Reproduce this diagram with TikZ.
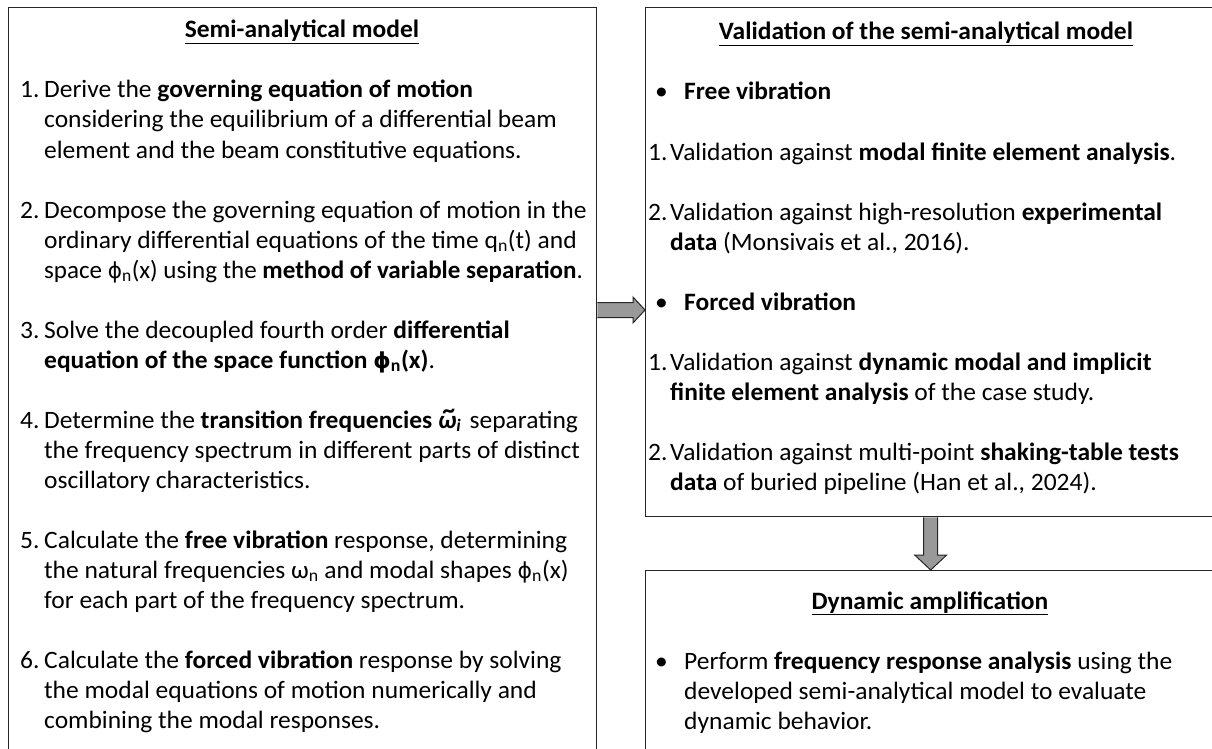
\documentclass[tikz,border=0pt]{standalone}
\usepackage{fontspec}
\setmainfont[FakeStretch=1.02]{Carlito}
\newfontfamily\dvs[Scale=0.88]{DejaVu Sans}
\usetikzlibrary{calc}
\newcommand\myphin{{\dvs ϕ}\textsubscript{n}}
\newcommand\mytildeomega{{\bfseries\itshape\makebox[0pt][l]{\raisebox{0.8ex}{\kern0.2em\char"7E}}ω\textsubscript{i}}}
\newcommand\myline[4]{\node[txt] (#1) at (#2,#3) {#4};}
\tikzset{
  txt/.style={anchor=base west, inner sep=0pt, font=\fontsize{25}{30}\selectfont},
  ttl/.style={anchor=base, inner sep=0pt, font=\fontsize{25}{30}\selectfont\bfseries},
  panel/.style={draw=black!85, line width=1.3pt, anchor=north west, inner sep=0pt},
  fatarrow/.style={draw=black!85, line width=1pt, fill=black!40, line join=miter}
}
\begin{document}
\begin{tikzpicture}[x=1pt,y=-1pt]
\useasboundingbox (0,0) rectangle (1212,749);
% panels
\node[panel, minimum width=588pt, minimum height=770pt] (sam) at (8,7) {};
\node[panel, minimum width=570pt, minimum height=509pt] (val) at (645,7) {};
\node[panel, minimum width=570pt, minimum height=200pt] (dyn) at (645,570) {};
% left panel
\node[ttl] (samt) at (302,38) {\underline{Semi-analytical model}};
\myline{n1}{20}{98}{1.}
\myline{a1}{44}{98}{Derive the \textbf{governing equation of motion}}
\myline{a2}{44}{128}{considering the equilibrium of a differential beam}
\myline{a3}{44}{158}{element and the beam constitutive equations.}
\myline{n2}{20}{218}{2.}
\myline{b1}{44}{218}{Decompose the governing equation of motion in the}
\myline{b2}{44}{248}{ordinary differential equations of the time q\textsubscript{n}(t) and}
\myline{b3}{44}{278}{\scalebox{0.982}[1]{space \myphin(x) using the \textbf{method of variable separation}.}}
\myline{n3}{20}{338}{3.}
\myline{c1}{44}{338}{Solve the decoupled fourth order \textbf{differential}}
\myline{c2}{44}{368}{\textbf{equation of the space function {\dvs\bfseries ϕ}\textsubscript{n}(x)}.}
\myline{n4}{20}{428}{4.}
\myline{d1}{44}{428}{Determine the \textbf{transition frequencies} \mytildeomega\,\,separating}
\myline{d2}{44}{458}{the frequency spectrum in different parts of distinct}
\myline{d3}{44}{488}{oscillatory characteristics.}
\myline{n5}{20}{548}{5.}
\myline{e1}{44}{548}{Calculate the \textbf{free vibration} response, determining}
\myline{e2}{44}{578}{the natural frequencies ω\textsubscript{n} and modal shapes \myphin(x)}
\myline{e3}{44}{608}{for each part of the frequency spectrum.}
\myline{n6}{20}{668}{6.}
\myline{f1}{44}{668}{Calculate the \textbf{forced vibration} response by solving}
\myline{f2}{44}{698}{the modal equations of motion numerically and}
\myline{f3}{44}{728}{combining the modal responses.}
% validation panel
\node[ttl] (valt) at (926,40) {\underline{Validation of the semi-analytical model}};
\myline{v0}{655}{100}{•}
\myline{v1}{684}{100}{\textbf{Free vibration}}
\myline{vn1}{648}{160}{1.}
\myline{v2}{670}{160}{Validation against \textbf{modal finite element analysis}.}
\myline{vn2}{648}{220}{2.}
\myline{v3}{670}{220}{Validation against high-resolution \textbf{experimental}}
\myline{v4}{670}{250}{\textbf{data} (Monsivais et al., 2016).}
\myline{w0}{655}{310}{•}
\myline{w1}{684}{310}{\textbf{Forced vibration}}
\myline{wn1}{648}{370}{1.}
\myline{w2}{670}{370}{Validation against \textbf{dynamic modal and implicit}}
\myline{w3}{670}{400}{\textbf{finite element analysis} of the case study.}
\myline{wn2}{648}{460}{2.}
\myline{w4}{670}{460}{Validation against multi-point \textbf{shaking-table tests}}
\myline{w5}{670}{490}{\textbf{data} of buried pipeline (Han et al., 2024).}
% dynamic panel
\node[ttl] (dynt) at (930,609) {\underline{Dynamic amplification}};
\myline{p0}{655}{669}{•}
\myline{p1}{684}{669}{Perform \textbf{frequency response analysis} using the}
\myline{p2}{684}{699}{developed semi-analytical model to evaluate}
\myline{p3}{684}{729}{dynamic behavior.}
% arrows
\coordinate (ay) at (0,310);
\coordinate (ra0) at (sam.east |- ay);
\coordinate (ra1) at (val.west |- ay);
\draw[fatarrow] ($(ra0)+(0,-7.5)$) -- ($(ra1)+(-12,-7.5)$) -- ($(ra1)+(-12,-13)$) -- (ra1)
  -- ($(ra1)+(-12,13)$) -- ($(ra1)+(-12,7.5)$) -- ($(ra0)+(0,7.5)$);
\draw[fatarrow] ($(val.south)+(-7,0)$) -- ($(dyn.north)+(-7,-15)$) -- ($(dyn.north)+(-16,-15)$) -- (dyn.north)
  -- ($(dyn.north)+(16,-15)$) -- ($(dyn.north)+(7,-15)$) -- ($(val.south)+(7,0)$);
\end{tikzpicture}
\end{document}
